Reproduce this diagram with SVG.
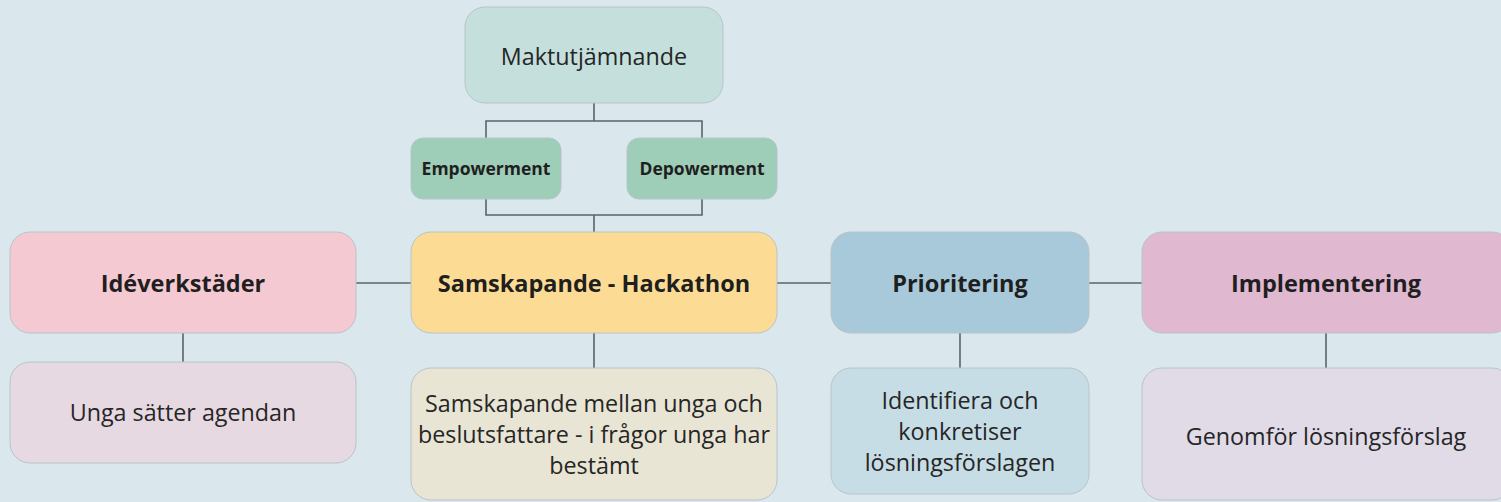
<svg xmlns="http://www.w3.org/2000/svg" width="1501" height="502" viewBox="0 0 1501 502">
<style>
.box{stroke:#b8c4c9;stroke-width:1}
.h{font-family:"Open Sans","Liberation Sans",sans-serif;font-weight:bold;font-size:23.5px;fill:#1f1f1f;text-anchor:middle}
.s{font-family:"Open Sans","Liberation Sans",sans-serif;font-weight:bold;font-size:17.5px;fill:#1f1f1f;text-anchor:middle}
.t{font-family:"Open Sans","Liberation Sans",sans-serif;font-size:23.3px;fill:#262626;text-anchor:middle}
.c{fill:none;stroke:#59646b;stroke-width:1.6}
</style>
<rect width="1501" height="502" fill="#dae7ed"/>
<g id="connectors">
<path class="c" d="M594 103V121M486 138V121H702V138"/>
<path class="c" d="M486 199V215H702V199M594 215V232"/>
<path class="c" d="M356 283H411M777 283H831M1089 283H1142"/>
<path class="c" d="M183 333V362M594 333V368M960 333V368M1326 333V368"/>
</g>
<g id="maktutjamnande"><rect class="box" x="465" y="7" width="258" height="96" rx="20" fill="#c5e0dc"/><text class="t" x="594" y="65">Maktutjämnande</text></g>
<g id="empowerment"><rect class="box" x="411" y="138" width="150" height="61" rx="12" fill="#9ecdb8"/><text class="s" x="486" y="175">Empowerment</text></g>
<g id="depowerment"><rect class="box" x="627" y="138" width="150" height="61" rx="12" fill="#9ecdb8"/><text class="s" x="702" y="175">Depowerment</text></g>
<g id="ideverkstader"><rect class="box" x="10" y="232" width="346" height="101" rx="20" fill="#f5c9d2"/><text class="h" x="183" y="292">Idéverkstäder</text></g>
<g id="samskapande"><rect class="box" x="411" y="232" width="366" height="101" rx="20" fill="#fcdc94"/><text class="h" x="594" y="292">Samskapande - Hackathon</text></g>
<g id="prioritering"><rect class="box" x="831" y="232" width="258" height="101" rx="20" fill="#a8c9d9"/><text class="h" x="960" y="292">Prioritering</text></g>
<g id="implementering"><rect class="box" x="1142" y="232" width="370" height="101" rx="20" fill="#e0b9d0"/><text class="h" x="1326" y="292">Implementering</text></g>
<g id="unga"><rect class="box" x="10" y="362" width="346" height="101" rx="20" fill="#e7d9e1"/><text class="t" x="183" y="421">Unga sätter agendan</text></g>
<g id="samskapande-desc"><rect class="box" x="411" y="368" width="366" height="132" rx="20" fill="#e8e5d5"/><text class="t" x="594" y="412">Samskapande mellan unga och</text><text class="t" x="594" y="443">beslutsfattare - i frågor unga har</text><text class="t" x="594" y="474">bestämt</text></g>
<g id="prioritering-desc"><rect class="box" x="831" y="368" width="258" height="126" rx="20" fill="#c7dde6"/><text class="t" x="960" y="409">Identifiera och</text><text class="t" x="960" y="440">konkretiser</text><text class="t" x="960" y="471">lösningsförslagen</text></g>
<g id="implementering-desc"><rect class="box" x="1142" y="368" width="370" height="132" rx="20" fill="#e0dbe7"/><text class="t" x="1326" y="445">Genomför lösningsförslag</text></g>
</svg>
